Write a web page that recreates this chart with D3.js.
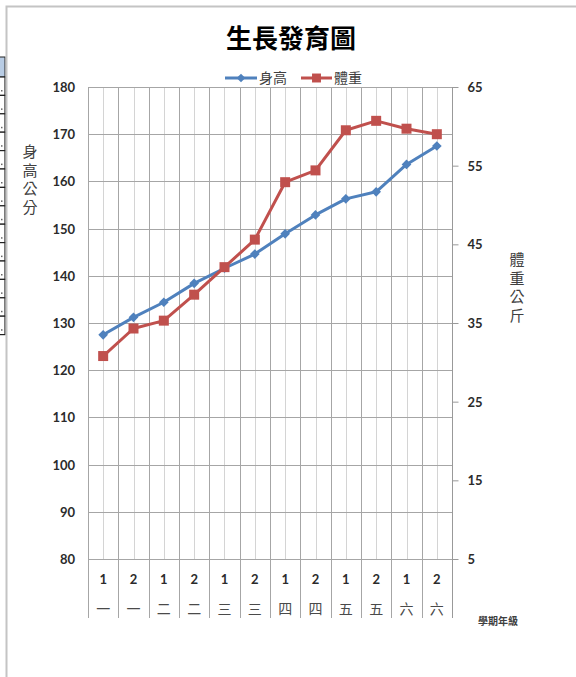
<!DOCTYPE html>
<html>
<head>
<meta charset="utf-8">
<script src="https://cdn.jsdelivr.net/npm/d3@7/dist/d3.min.js"></script>
<style>
  html, body { margin: 0; padding: 0; background: #fff; }
  svg { display: block; }
  .cjk { font-family: "Noto Sans CJK TC", "Noto Sans CJK SC", sans-serif; }
  .num { font-family: Lato, "Open Sans", "Liberation Sans", sans-serif; }
  .vert { writing-mode: vertical-rl; text-orientation: upright; }
</style>
</head>
<body>
<svg id="chart" width="576" height="677"></svg>
<script>
// Semester number and school grade for each measurement
const semesters = ["1", "2", "1", "2", "1", "2", "1", "2", "1", "2", "1", "2"];
const grades = ["一", "一", "二", "二", "三", "三", "四", "四", "五", "五", "六", "六"];

// Height in cm (left axis) and weight in kg (right axis)
const heights = [127.5, 131.2, 134.4, 138.4, 141.6, 144.6, 148.9, 152.9, 156.3, 157.8, 163.6, 167.5];
const weights = [30.8, 34.3, 35.3, 38.6, 42.1, 45.6, 52.9, 54.4, 59.5, 60.7, 59.7, 59.0];

// Axis tick values
const leftTicks = [80, 90, 100, 110, 120, 130, 140, 150, 160, 170, 180];
const rightTicks = [5, 15, 25, 35, 45, 55, 65];

const seriesNames = ["身高", "體重"];
const colors = ["#4f81bd", "#c0504d"];

const svg = d3.select("#chart");
const W = 576, H = 677;
const plot = { left: 88, right: 452, top: 87, bottom: 559 };
const labelBottom = 618;

const idx = d3.range(semesters.length);
const x = d3.scaleBand().domain(idx).range([plot.left, plot.right]).padding(0);
const yL = d3.scaleLinear().domain([80, 180]).range([plot.bottom, plot.top]);
const yR = d3.scaleLinear().domain([5, 65]).range([plot.bottom, plot.top]);

svg.append("rect").attr("width", W).attr("height", H).attr("fill", "#fff");

// Spreadsheet cells peeking out at the left edge
const cells = svg.append("g");
cells.append("rect").attr("x", -2).attr("y", 57).attr("width", 7).attr("height", 20)
  .attr("fill", "#b8cce4").attr("stroke", "#222").attr("stroke-width", 1);
d3.range(14).forEach(i => {
  cells.append("rect").attr("x", -2).attr("y", 77 + i * 18.4).attr("width", 7).attr("height", 18.4)
    .attr("fill", "#fff").attr("stroke", "#222").attr("stroke-width", 1.2);
  cells.append("rect").attr("x", 1).attr("y", 77 + i * 18.4 + 13).attr("width", 1.5).attr("height", 1.5)
    .attr("fill", "#666");
});

// Chart frame
svg.append("path")
  .attr("d", `M6.5,${H} L6.5,6.5 L${W},6.5`)
  .attr("fill", "none").attr("stroke", "#c4c4c4").attr("stroke-width", 2);

// Title
svg.append("text").attr("class", "cjk")
  .attr("x", 291).attr("y", 48).attr("text-anchor", "middle")
  .attr("font-size", 26).attr("font-weight", 700).attr("fill", "#000")
  .text("生長發育圖");

// Legend
const legend = svg.append("g").attr("transform", "translate(0,78)");
const legendItems = [
  { x1: 225, x2: 257, text: 259, shape: d3.symbolDiamond2, size: 48 },
  { x1: 301, x2: 332, text: 334, shape: d3.symbolSquare, size: 80 }
];
legendItems.forEach((it, i) => {
  legend.append("line").attr("x1", it.x1).attr("x2", it.x2).attr("y1", 0).attr("y2", 0)
    .attr("stroke", colors[i]).attr("stroke-width", 3);
  legend.append("path")
    .attr("d", d3.symbol().type(it.shape).size(it.size)())
    .attr("transform", `translate(${(it.x1 + it.x2) / 2},0)`)
    .attr("fill", colors[i]);
  legend.append("text").attr("class", "cjk")
    .attr("x", it.text).attr("y", 5).attr("font-size", 14).attr("fill", "#404040")
    .text(seriesNames[i]);
});

// Gridlines
const grid = svg.append("g");
// minor vertical lines at category centres
idx.forEach(i => {
  const cx = Math.round(x(i) + x.bandwidth() / 2) + 0.5;
  grid.append("line").attr("x1", cx).attr("x2", cx).attr("y1", plot.top).attr("y2", plot.bottom)
    .attr("stroke", "#d4d4d4").attr("stroke-width", 1);
});
// horizontal gridlines for the left axis
leftTicks.forEach(t => {
  const yy = Math.round(yL(t)) + 0.5;
  grid.append("line").attr("x1", plot.left).attr("x2", plot.right).attr("y1", yy).attr("y2", yy)
    .attr("stroke", "#a6a6a6").attr("stroke-width", 1);
});
// category boundaries running through the label rows
idx.concat([semesters.length]).forEach(i => {
  const bx = Math.round(i < semesters.length ? x(i) : plot.right) + 0.5;
  grid.append("line").attr("x1", bx).attr("x2", bx).attr("y1", plot.top).attr("y2", labelBottom)
    .attr("stroke", i === semesters.length ? "#999" : "#a6a6a6").attr("stroke-width", 1);
});

// Left axis labels
const axL = d3.axisLeft(yL).tickValues(leftTicks).tickSize(0).tickPadding(0);
const gL = svg.append("g").attr("transform", `translate(75,0)`).call(axL);
gL.select(".domain").remove();
gL.selectAll("text").attr("class", "num").attr("font-size", 13).attr("font-weight", 700)
  .attr("fill", "#2b2b2b").attr("dy", "0.35em");

// Right axis with small outside ticks
const axR = d3.axisRight(yR).tickValues(rightTicks).tickSize(6).tickPadding(9);
const gR = svg.append("g").attr("transform", `translate(${plot.right + 0.5},0)`).call(axR);
gR.select(".domain").remove();
gR.selectAll("line").attr("stroke", "#999");
gR.selectAll("text").attr("class", "num").attr("font-size", 13).attr("font-weight", 700)
  .attr("fill", "#2b2b2b").attr("dy", "0.35em");

// Category labels: semester row and grade row
const catG = svg.append("g");
idx.forEach(i => {
  const cx = x(i) + x.bandwidth() / 2;
  catG.append("text").attr("class", "num").attr("x", cx).attr("y", 584)
    .attr("text-anchor", "middle").attr("font-size", 13).attr("font-weight", 700).attr("fill", "#2b2b2b")
    .text(semesters[i]);
  catG.append("text").attr("class", "cjk").attr("x", cx).attr("y", 614)
    .attr("text-anchor", "middle").attr("font-size", 14).attr("fill", "#4a4a4a")
    .text(grades[i]);
});

// Axis titles written top-to-bottom
function vertical(str, cx, yTop) {
  svg.append("text").attr("class", "cjk vert")
    .attr("x", cx).attr("y", yTop)
    .attr("font-size", 15).attr("letter-spacing", 3.5).attr("fill", "#404040")
    .text(str);
}
vertical("身高公分", 30, 144);
vertical("體重公斤", 517, 252);

svg.append("text").attr("class", "cjk")
  .attr("x", 498).attr("y", 625).attr("text-anchor", "middle")
  .attr("font-size", 10).attr("font-weight", 700).attr("fill", "#404040")
  .text("學期年級");

// Series lines and markers
const cxOf = i => x(i) + x.bandwidth() / 2;
const series = [
  { values: heights, y: yL, shape: d3.symbolDiamond2, size: 60 },
  { values: weights, y: yR, shape: d3.symbolSquare, size: 100 }
];
series.forEach((s, si) => {
  const line = d3.line().x((d, i) => cxOf(i)).y(d => s.y(d));
  svg.append("path").datum(s.values).attr("d", line)
    .attr("fill", "none").attr("stroke", colors[si]).attr("stroke-width", 3)
    .attr("stroke-linejoin", "round");
  svg.append("g").selectAll("path").data(s.values).join("path")
    .attr("d", d3.symbol().type(s.shape).size(s.size)())
    .attr("transform", (d, i) => `translate(${cxOf(i)},${s.y(d)})`)
    .attr("fill", colors[si]);
});
</script>
</body>
</html>
